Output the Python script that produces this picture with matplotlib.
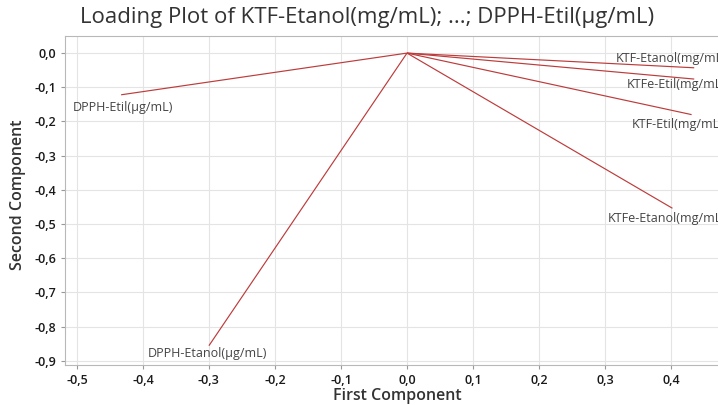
import matplotlib
matplotlib.use("Agg")
import matplotlib.pyplot as plt
from matplotlib.ticker import FuncFormatter

plt.rcParams['font.family'] = ['Open Sans', 'DejaVu Sans']

variables = ["KTF-Etanol(mg/mL)", "KTFe-Etil(mg/mL)", "KTF-Etil(mg/mL)",
             "KTFe-Etanol(mg/mL)", "DPPH-Etil(µg/mL)", "DPPH-Etanol(µg/mL)"]
pc1 = [0.435, 0.435, 0.431, 0.402, -0.433, -0.300]
pc2 = [-0.043, -0.076, -0.180, -0.454, -0.122, -0.856]
x_ticks = [-0.5, -0.4, -0.3, -0.2, -0.1, 0.0, 0.1, 0.2, 0.3, 0.4]
y_ticks = [0.0, -0.1, -0.2, -0.3, -0.4, -0.5, -0.6, -0.7, -0.8, -0.9]

# label placement in pixels relative to line endpoints (dx, dy, ha)
label_place = [(-78, 9, 'left'), (-67, -5, 'left'), (-60, -10, 'left'),
               (-65, -10, 'left'), (2, -13, 'center'), (-1, -8, 'center')]

W, H = 718, 405
fig = plt.figure(figsize=(W / 100, H / 100), dpi=100)
ax = fig.add_axes([65 / W, 1 - 365 / H, (W - 65) / W, (365 - 36) / H])

line_color = "#bd3b3b"
for x, y, name, (dx, dy, ha) in zip(pc1, pc2, variables, label_place):
    ax.plot([0, x], [0, y], color=line_color, lw=0.85, solid_capstyle='butt')
    ax.annotate(name, (x, y), xytext=(dx, dy), textcoords='offset pixels',
                ha=ha, va='center', fontsize=9, color='#444444',
                annotation_clip=False)

ax.set_xlim(-0.518, 0.471)
ax.set_ylim(-0.9125, 0.05)
ax.set_xticks(x_ticks)
ax.set_yticks(y_ticks)
fmt = FuncFormatter(lambda v, p: f"{v:.1f}".replace('.', ',').replace('-0,0', '0,0'))
ax.xaxis.set_major_formatter(fmt)
ax.yaxis.set_major_formatter(fmt)
ax.grid(True, color='#e4e4e4', lw=0.8)
ax.set_axisbelow(True)
for s in ['left', 'bottom', 'top']:
    ax.spines[s].set_color('#b8b8b8')
    ax.spines[s].set_linewidth(0.8)
ax.spines['right'].set_visible(False)
ax.tick_params(axis='both', length=3, width=0.8, color='#999999',
               labelsize=9, labelcolor='#1a1a1a')
for lab in ax.get_xticklabels() + ax.get_yticklabels():
    lab.set_fontweight('semibold')

fig.text(397 / W, 1 - 396 / H, "First Component", ha='center', va='center',
         fontsize=11.5, fontweight='semibold', color='#333333')
fig.text(18 / W, 1 - 195 / H, "Second Component", ha='center', va='center',
         rotation=90, fontsize=11.5, fontweight='semibold', color='#333333')
fig.text(367 / W, 1 - 17 / H,
         "Loading Plot of KTF-Etanol(mg/mL); ...; DPPH-Etil(µg/mL)",
         ha='center', va='center', fontsize=16, color='#333333')

fig.savefig("out.png", dpi=100)
